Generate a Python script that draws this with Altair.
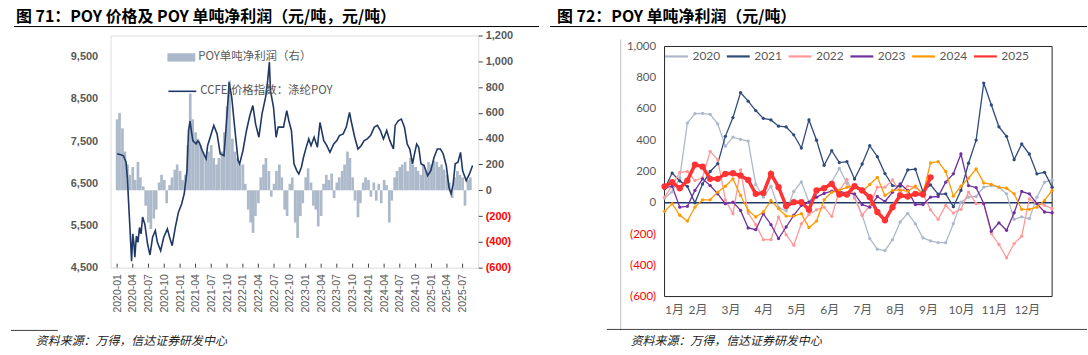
import altair as alt
import pandas as pd

# ================= Figure 71: POY price & per-ton profit =================
price_dates = [
    "2020-01-01", "2020-01-19", "2020-02-07", "2020-02-22", "2020-03-01", "2020-03-07", "2020-03-16", "2020-03-25",
    "2020-04-01", "2020-04-07", "2020-04-13", "2020-04-22", "2020-05-01", "2020-05-10", "2020-05-19", "2020-05-28",
    "2020-06-10", "2020-06-26", "2020-07-10", "2020-07-25", "2020-08-10", "2020-08-22", "2020-09-10", "2020-09-28",
    "2020-10-19", "2020-11-01", "2020-11-16", "2020-12-04", "2020-12-22",
    "2021-01-10", "2021-01-25", "2021-02-10", "2021-02-19", "2021-02-28", "2021-03-07", "2021-03-16", "2021-04-04",
    "2021-04-13", "2021-04-22", "2021-05-10", "2021-06-01", "2021-06-10", "2021-06-28", "2021-07-16", "2021-08-04",
    "2021-08-22", "2021-09-13", "2021-10-01", "2021-10-13", "2021-10-28", "2021-11-16", "2021-12-04", "2021-12-13",
    "2022-01-01", "2022-01-22", "2022-02-10", "2022-02-28", "2022-03-16", "2022-04-04", "2022-04-22", "2022-05-13",
    "2022-05-25", "2022-06-04", "2022-06-10", "2022-06-28", "2022-07-13", "2022-07-25", "2022-08-25", "2022-09-13",
    "2022-09-25", "2022-10-10", "2022-10-25", "2022-11-10", "2022-11-22", "2022-12-07", "2022-12-19",
    "2023-01-04", "2023-01-19", "2023-02-01", "2023-02-19", "2023-03-10", "2023-03-25", "2023-04-16", "2023-05-04",
    "2023-05-22", "2023-06-13", "2023-07-01", "2023-07-16", "2023-08-07", "2023-08-25", "2023-09-13", "2023-09-22",
    "2023-10-13", "2023-11-01", "2023-11-19", "2023-12-07", "2023-12-25",
    "2024-01-13", "2024-02-04", "2024-02-22", "2024-03-10", "2024-03-28", "2024-04-16", "2024-05-04", "2024-05-25",
    "2024-06-04", "2024-06-22", "2024-07-10", "2024-07-28", "2024-08-13", "2024-08-28", "2024-09-13", "2024-09-22",
    "2024-10-07", "2024-10-19", "2024-11-01", "2024-11-19", "2024-12-10", "2024-12-28",
    "2025-01-16", "2025-02-04", "2025-02-22", "2025-03-10", "2025-03-28", "2025-04-13", "2025-04-25", "2025-05-07",
    "2025-05-19", "2025-06-04", "2025-06-19", "2025-07-01", "2025-07-22", "2025-08-10", "2025-08-28",
]
price_values = [
    7200, 7180, 7150, 7000, 6600, 6100, 5400, 4650, 5300, 5100, 4750, 5250, 5100, 5450, 5300, 5700,
    5530, 5060, 4800, 5220, 5380, 5100, 4900, 5220, 5420, 5220, 5020, 5450, 5810,
    6010, 6250, 6800, 7750, 7970, 7750, 7510, 7430, 7500, 7470, 7270, 7080, 7390, 7630, 7870, 7670,
    7200, 7150, 8140, 8890, 8540, 7750, 7040, 6960,
    7270, 7750, 8100, 8340, 7900, 7590, 8140, 8540, 8930, 9370, 8700, 8300, 7590, 7830, 7830, 8220,
    7980, 7750, 6960, 6800, 6720, 6880, 7110,
    7350, 7550, 7390, 7590, 7350, 7940, 7510, 7390, 7230, 7430, 7510, 7630, 7670, 7830, 8180, 7980,
    7590, 7310, 7390, 7510, 7550,
    7630, 7830, 7870, 7750, 7550, 7750, 7510, 7310, 7870, 7980, 8020, 7830, 7430, 7310, 6960, 7150,
    7430, 7350, 6960, 6920, 6680, 6800,
    7110, 7310, 7310, 7200, 6920, 6400, 6250, 6480, 6960, 7000, 7230, 6800, 6560, 6720, 6920,
]
# half-month profit values (1st / 15th of each month), 2020-01 .. 2025-08
profit_values = [
    550, 600, 480, 300, 200, 120, 180, 80, 220, 100, 30, -120, -250, -300, -220, -150, 60, 120, 80, -100, 40, 100, 160, 200,
    150, 80, 120, 350, 750, 550, 450, 400, 350, 300, 250, 300, 350, 250, 200, 250, 300, 450, 650, 850, 400, 300, 250, 200,
    200, 50, -150, -250, -330, -200, -100, 100, 200, 250, 150, -50, 50, 150, 200, 100, -150, -200, 50, 100, -250, -370, -200, -100,
    100, 170, 60, -120, -150, -280, -200, 50, 120, 80, 130, -60, 60, 100, 150, 200, 300, 250, 100, -80, -210, -100, 60, 100,
    80, -50, 60, -80, 50, -100, 80, 40, -250, -80, 100, 150, 180, 200, 220, 150, 250, 200, 180, 150, 120, 200, 150, 220,
    200, 230, 220, 180, 200, 160, 120, 60, -60, 100, 150, 120, 100, -120, 80, 100,
]
price_label = "CCFEI价格指数：涤纶POY"
profit_label = "POY单吨净利润（右）"
price_ticks = [4500, 5500, 6500, 7500, 8500, 9500]
profit_ticks = [-600, -400, -200, 0, 200, 400, 600, 800, 1000, 1200]
quarter_starts = pd.date_range("2020-01-01", "2025-07-01", freq="3MS")

# ================= Figure 72: weekly per-ton profit by year =================
years = ["2020", "2021", "2022", "2023", "2024", "2025"]
y2020 = [30, 70, 160, 510, 570, 572, 566, 505, 362, 420, 405, 395, 117, 36, 105, -30, -52, 72, 134, 4,
         68, 100, 132, 220, 125, 36, -80, -229, -297, -306, -236, -123, -68, -134, -225, -244, -255, -255, -134, 4,
         36, 40, 100, 110, 100, 57, -106, -90, -102, 36, 132, 146]
y2021 = [90, 190, 140, 105, 0, 120, 200, 250, 425, 545, 705, 650, 590, 540, 530, 490, 485, 435, 350, 530,
         400, 240, 333, 257, 263, 152, 248, 365, 295, 187, 110, 106, 210, 215, 70, 115, 55, 57, -25, 79,
         253, 401, 766, 626, 486, 425, 276, 376, 312, 185, 195, 100]
y2022 = [36, 110, 195, 200, 142, 160, 329, 274, 19, -70, 210, -66, -140, -236, -236, -92, -204, -272, -134, -75,
         -45, -28, -87, 80, 150, 30, -80, -20, 100, 100, 146, 68, 106, 100, 57, -45, -106, -17, -66, -42,
         68, -6, -6, -197, -267, -352, -261, -214, 25, -6, -17, -38]
y2023 = [95, 106, -28, -23, 79, 153, 110, 57, -6, 4, -49, -161, -172, -70, -140, -229, -155, -80, -17, 4,
         36, 60, 75, 75, 60, 57, -11, -28, 40, 8, 68, 121, 79, -11, -11, 36, 40, 132, 185, 312,
         110, 97, -5, -183, -128, -176, -64, 72, 57, -6, -59, -64]
y2024 = [-55, -6, -80, -117, -28, 19, 19, 68, 106, 153, 47, -49, -91, -59, 15, -38, -85, -85, -70, -159,
         -117, 19, 68, 79, 100, 110, 74, 117, 163, 47, 79, 83, 74, 106, 57, 255, 263, 200, 42, 106,
         157, 217, 127, 117, 100, 93, 57, -42, -42, -28, 15, 79]
y2025 = [104, 132, 93, 142, 244, 231, 153, 153, 185, 189, 174, 146, 57, 62, 185, 100, -21, 4, 4, -45,
         79, 93, 121, 53, 53, 106, 79, 36, -59, -112, -28, 47, 40, 57, 53, 163]
year_colors = ["#ADB9CA", "#2F4B7C", "#FF9999", "#7030A0", "#FF9900", "#FF3333"]
month_labels = ["1月", "2月", "3月", "4月", "5月", "6月", "7月", "8月", "9月", "10月", "11月", "12月"]
profit72_ticks = [-600, -400, -200, 0, 200, 400, 600, 800, 1000]

title71 = "图 71：POY 价格及 POY 单吨净利润（元/吨，元/吨）"
title72 = "图 72：POY 单吨净利润（元/吨）"
source_text = "资料来源：万得，信达证券研发中心"

CJK = "Noto Sans CJK SC"
NUM = "Liberation Sans"
GREY = "#595959"

# ---------------- helpers for decorations ----------------
one = pd.DataFrame({"k": [0]})


def deco_text(txt, x, y, size, weight="normal", style="normal", color="#000000"):
    return alt.Chart(one).mark_text(
        text=txt, align="left", baseline="middle", fontSize=size, fontWeight=weight,
        fontStyle=style, color=color, font=CJK
    ).encode(x=alt.value(x), y=alt.value(y))


def deco_hline(x1, x2, y, color, w=1):
    return alt.Chart(one).mark_rule(color=color, strokeWidth=w).encode(
        x=alt.value(x1), x2=alt.value(x2), y=alt.value(y))


def deco_vline(x, y1, y2, color, w=1):
    return alt.Chart(one).mark_rule(color=color, strokeWidth=w).encode(
        x=alt.value(x), y=alt.value(y1), y2=alt.value(y2))


def deco_frame(x1, x2, y1, y2, color, w=1):
    return alt.Chart(one).mark_rect(fill=None, stroke=color, strokeWidth=w).encode(
        x=alt.value(x1), x2=alt.value(x2), y=alt.value(y1), y2=alt.value(y2))


neg_label = "datum.value < 0 ? '(' + format(-datum.value, ',') + ')' : format(datum.value, ',')"
neg_color = {"condition": {"test": "datum.value < 0", "value": "#FF0000"}, "value": GREY}

# ---------------- Figure 71 ----------------
W1, H1 = 369, 233
price_df = pd.DataFrame({"date": pd.to_datetime(price_dates), "price": price_values, "s": price_label})
profit_df = pd.DataFrame({
    "date": pd.date_range("2020-01-01", periods=len(profit_values), freq="SMS"),
    "profit": profit_values, "s": profit_label})
tick_df = pd.DataFrame({"date": quarter_starts})

x_scale = alt.Scale(domain=[alt.DateTime(year=2019, month=12, date=23),
                            alt.DateTime(year=2025, month=9, date=1)])
x_axis = alt.Axis(values=[alt.DateTime(year=d.year, month=d.month, date=1) for d in quarter_starts],
                  format="%Y-%m", labelAngle=-90, labelFontSize=10.5, labelColor=GREY, labelFont=NUM,
                  ticks=False, domain=False, grid=False, labelPadding=6, title=None)

bars = alt.Chart(profit_df).mark_bar(size=2.7, opacity=1).encode(
    x=alt.X("date:T", scale=x_scale, axis=x_axis),
    y=alt.Y("profit:Q", scale=alt.Scale(domain=[-600, 1200], nice=False),
            axis=alt.Axis(orient="right", values=profit_ticks, labelExpr=neg_label, labelColor=neg_color,
                          labelFontWeight="bold", labelFontSize=11, labelFont=NUM, tickSize=4,
                          tickColor="#404040", domain=False, grid=False, labelPadding=3, title=None)),
    fill=alt.Fill("s:N", scale=alt.Scale(range=["#ACB9CA"]),
                  legend=alt.Legend(title=None, orient="none", legendX=57, legendY=8, padding=0,
                                    symbolType="M-1,-0.3H1V0.3H-1Z", symbolSize=784, symbolStrokeWidth=0,
                                    labelFontSize=11.5, labelColor=GREY, labelFont=CJK, labelOffset=3)),
)

line = alt.Chart(price_df).mark_line(strokeWidth=1.6).encode(
    x=alt.X("date:T", scale=x_scale, axis=x_axis),
    y=alt.Y("price:Q", scale=alt.Scale(domain=[4500, 10000], nice=False),
            axis=alt.Axis(orient="left", values=price_ticks, labelExpr="format(datum.value, ',')",
                          labelColor=GREY, labelFontWeight="bold", labelFontSize=11, labelFont=NUM,
                          ticks=False, domain=False, grid=False, labelPadding=13, title=None)),
    stroke=alt.Stroke("s:N", scale=alt.Scale(range=["#1F3864"]),
                      legend=alt.Legend(title=None, orient="none", legendX=57, legendY=41, padding=0,
                                        symbolType="stroke", symbolSize=784, symbolStrokeWidth=1.6,
                                        labelFontSize=11.5, labelColor=GREY, labelFont=CJK, labelOffset=3)),
)

qticks = alt.Chart(tick_df).mark_rule(color="#404040", strokeWidth=1).encode(
    x=alt.X("date:T", scale=x_scale, axis=x_axis),
    y=alt.value(H1 - 4), y2=alt.value(H1),
)

left = alt.layer(
    bars, line, qticks,
    deco_text(title71, -95, -19, 16, weight="bold"),
    deco_hline(-97, 430, -9, "#000000", 1),
    deco_hline(-100, -53, 296, "#404040", 1),
    deco_text(source_text, -75, 307, 12, style="italic", color="#222222"),
).resolve_scale(y="independent").properties(width=W1, height=H1)

# ---------------- Figure 72 ----------------
# the view shares its top with figure 71; the plot frame starts TOP2 px lower
W2, H2, TOP2 = 389, 262, 11
series = [y2020, y2021, y2022, y2023, y2024, y2025]
rows = []
for yr, vals in zip(years, series):
    for i, v in enumerate(vals):
        rows.append({"year": yr, "week": i, "profit": v})
wk_df = pd.DataFrame(rows)

wx_scale = alt.Scale(domain=[0, 51], nice=False, zero=False)
month_pos = [m * 52 / 12 for m in range(12)]
month_expr = "[" + ",".join("'" + m + "'" for m in month_labels) + "][round(datum.value * 12 / 52)]"
wx_axis = alt.Axis(values=month_pos, labelExpr=month_expr, labelFontSize=12, labelColor=GREY,
                   labelFont="Lato, 'Noto Sans CJK SC'", ticks=False, domain=False, grid=False,
                   labelPadding=8, labelAngle=0, title=None)
wy_scale = alt.Scale(domain=[-600, 1000], nice=False, range=[H2, TOP2])
wy_axis = alt.Axis(values=profit72_ticks, labelExpr=neg_label, labelColor=neg_color, labelFontSize=11.5,
                   labelFont="Lato", ticks=False, domain=False, grid=False, labelPadding=9, title=None)

leg72 = alt.Legend(title=None, orient="none", legendX=-1, legendY=TOP2 - 3, direction="horizontal", padding=0,
                   symbolType="stroke", symbolSize=529, symbolStrokeWidth=2.2,
                   labelFontSize=12, labelColor=GREY, labelFont="Lato", columnPadding=2, labelOffset=3)

is2025 = "datum.year == '2025'"

zero72 = alt.Chart(one).mark_rule(color="#1F3864", strokeWidth=1.5).encode(
    y=alt.Y(datum=0, scale=wy_scale, axis=wy_axis))

lines72 = alt.Chart(wk_df).mark_line().encode(
    x=alt.X("week:Q", scale=wx_scale, axis=wx_axis),
    y=alt.Y("profit:Q", scale=wy_scale, axis=wy_axis),
    color=alt.Color("year:N", scale=alt.Scale(domain=years, range=year_colors), legend=leg72),
    strokeWidth=alt.condition(is2025, alt.value(3.5), alt.value(1.3)),
)
dots72 = alt.Chart(wk_df).mark_circle(opacity=1).encode(
    x=alt.X("week:Q", scale=wx_scale, axis=wx_axis),
    y=alt.Y("profit:Q", scale=wy_scale, axis=wy_axis),
    fill=alt.Fill("year:N", scale=alt.Scale(domain=years, range=year_colors), legend=None),
    size=alt.condition(is2025, alt.value(40), alt.value(11)),
)

right = alt.layer(
    deco_frame(0, W2, TOP2, H2, "#262626", 1),
    zero72, lines72, dots72,
    deco_text(title72, -108, -19, 16, weight="bold"),
    deco_hline(-115, 424, -9, "#000000", 1),
    deco_vline(-44, 4, 296, "#BFBFBF", 1),
    deco_hline(-58, 424, 295, "#404040", 1),
    deco_text(source_text, -34, 307, 12, style="italic", color="#222222"),
).properties(width=W2, height=H2, view=alt.ViewBackground(stroke=None))

chart = alt.concat(left, right, columns=2, spacing=9, align="none").resolve_scale(
    color="independent", fill="independent", stroke="independent"
).resolve_legend(
    color="independent", fill="independent", stroke="independent"
).properties(
    padding={"left": 10, "top": 7, "right": 0, "bottom": 0}
).configure_view(stroke="#262626", strokeWidth=1).configure(font=CJK)

chart.save("out.html", embed_options={"renderer": "svg", "actions": False})
